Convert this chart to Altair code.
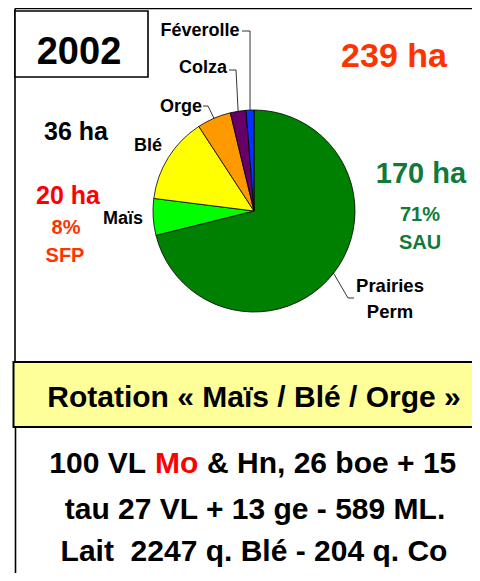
import math
import altair as alt
import pandas as pd

# ---------------- data ----------------
cultures = ["Prairies Perm", "Maïs", "Blé", "Orge", "Colza", "Féverolle"]
hectares = [170, 14, 33, 13, 6, 3]
couleurs = ["#008000", "#00FF00", "#FFFF00", "#FF9900", "#660066", "#0033FF"]

annee = "2002"
total_txt = "239 ha"
cereales_txt = "36 ha"
mais_txt = ["20 ha", "8%", "SFP"]
prairie_txt = ["170 ha", "71%", "SAU"]
rotation_txt = "Rotation « Maïs / Blé / Orge »"
ligne1 = ["100 VL", "Mo", "& Hn, 26 boe + 15"]
ligne2 = "tau 27 VL + 13 ge - 589 ML."
ligne3 = "Lait\u00a0 2247 q. Blé - 204 q. Co"

FONT = "Liberation Sans, Arial, sans-serif"
W, H = 464, 565
OFF = 8
CX, CY, R = 254, 211, 101  # page coords of pie centre

xs = alt.Scale(domain=[OFF, OFF + W])
ys = alt.Scale(domain=[OFF, OFF + H], reverse=True)


def X(f, **kw):
    return alt.X(f, type="quantitative", scale=xs, axis=None, **kw)


def Y(f, **kw):
    return alt.Y(f, type="quantitative", scale=ys, axis=None, **kw)


# ---------------- pie ----------------
pie_df = pd.DataFrame({"culture": cultures, "ha": hectares, "ord": list(range(len(cultures)))})
pie = alt.Chart(pie_df).mark_arc(radius=R, stroke="black", strokeWidth=0.8).encode(
    theta=alt.Theta("ha:Q", stack=True),
    order=alt.Order("ord:Q"),
    color=alt.Color("culture:N", scale=alt.Scale(domain=cultures, range=couleurs), legend=None),
    x=alt.value(CX - OFF),
    y=alt.value(CY - OFF),
)

# leader lines: end on the pie edge at each slice's mid angle
tot = sum(hectares)
cum = 0
mid = {}
for c, h in zip(cultures, hectares):
    a = (cum + h / 2) / tot * 2 * math.pi
    mid[c] = (CX + R * math.sin(a), CY - R * math.cos(a))
    cum += h

lead_rows = []
def lead(name, pts):
    for i, (px, py) in enumerate(pts):
        lead_rows.append({"g": name, "i": i, "x": px, "y": py})

ex, ey = mid["Féverolle"]
lead("Féverolle", [(242, 31), (ex, 31), (ex, ey)])
ex, ey = mid["Colza"]
lead("Colza", [(229, 70), (236, 70), (ex, ey)])
ex, ey = mid["Orge"]
lead("Orge", [(203, 106), (208, 106), (ex, ey)])
ex, ey = mid["Prairies Perm"]
lead("Prairies", [(ex, ey), (348, 298), (354, 298)])

leaders = alt.Chart(pd.DataFrame(lead_rows)).mark_line(color="black", strokeWidth=0.8).encode(
    x=X("x"), y=Y("y"), detail="g:N", order="i:Q"
)

# ---------------- frames ----------------
frame_rules = pd.DataFrame([
    {"x": 15, "x2": 500, "y": 8.5, "y2": 8.5},
    {"x": 15, "x2": 15, "y": 8.5, "y2": 362},
    {"x": 15.5, "x2": 15.5, "y": 427, "y2": 600},
])
rules = alt.Chart(frame_rules).mark_rule(color="black", strokeWidth=1.6).encode(
    x=X("x"), x2="x2", y=Y("y"), y2="y2"
)

box_year = alt.Chart(pd.DataFrame([{"x": 15, "x2": 148, "y": 11, "y2": 77}])).mark_rect(
    fill="white", stroke="black", strokeWidth=1.6
).encode(x=X("x"), x2="x2", y=Y("y"), y2="y2")

band = alt.Chart(pd.DataFrame([{"x": 13.5, "x2": 520, "y": 362, "y2": 427}])).mark_rect(
    fill="#FFFF99", stroke="black", strokeWidth=2
).encode(x=X("x"), x2="x2", y=Y("y"), y2="y2")

# ---------------- texts ----------------
BLACK, RED, ORANGE, GREEN = "black", "#FF0000", "#FF3300", "#117A3A"
center_texts = [
    (annee, 79, 64, 38, BLACK),
    (total_txt, 394, 67, 34, ORANGE),
    (cereales_txt, 76, 140, 25, BLACK),
    ("Blé", 148, 151, 18, BLACK),
    ("Orge", 181, 112, 18, BLACK),
    ("Colza", 203, 73, 18, BLACK),
    ("Féverolle", 200, 36, 18, BLACK),
    (mais_txt[0], 68, 204, 25, RED),
    (mais_txt[1], 66, 234, 20, ORANGE),
    (mais_txt[2], 65, 262, 20, ORANGE),
    ("Maïs", 123, 224, 18, BLACK),
    (prairie_txt[0], 421, 183, 29, GREEN),
    (prairie_txt[1], 420, 221, 20, GREEN),
    (prairie_txt[2], 420, 249, 20, GREEN),
    ("Prairies", 390, 292, 18.5, BLACK),
    ("Perm", 390, 318, 18.5, BLACK),
    (rotation_txt, 254, 407, 30, BLACK),
    (ligne2, 255, 519, 30, BLACK),
    (ligne3, 254, 561, 30, BLACK),
]
right_texts = [(ligne1[0], 146, 473, 30, BLACK)]
left_texts = [(ligne1[1], 155, 473, 30, RED), (ligne1[2], 207, 473, 30, BLACK)]


def text_layer(rows, align):
    df = pd.DataFrame(rows, columns=["t", "x", "y", "s", "c"])
    return alt.Chart(df).mark_text(
        font=FONT, fontWeight="bold", align=align, baseline="alphabetic"
    ).encode(
        x=X("x"), y=Y("y"), text="t:N",
        size=alt.Size("s:Q", scale=None, legend=None),
        color=alt.Color("c:N", scale=None, legend=None),
    )


chart = alt.layer(
    band, rules, box_year, pie, leaders,
    text_layer(center_texts, "center"),
    text_layer(right_texts, "right"),
    text_layer(left_texts, "left"),
).resolve_scale(color="independent", size="independent").properties(
    width=W, height=H, padding=0, autosize="none"
).configure_view(stroke=None)

chart.save("out.html", embed_options={"renderer": "svg", "actions": False})
